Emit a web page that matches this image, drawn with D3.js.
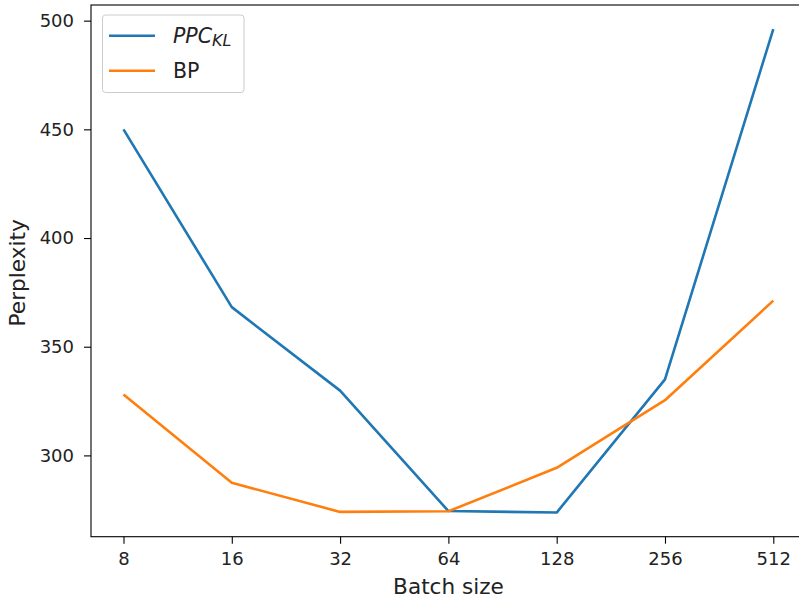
<!DOCTYPE html>
<html>
<head>
<meta charset="utf-8">
<script src="https://cdn.jsdelivr.net/npm/d3@7"></script>
<style>
  body { margin:0; background:#fff; }
  svg { display:block; font-family:"DejaVu Sans", sans-serif; }
</style>
</head>
<body>
<svg id="chart" width="799" height="599"></svg>
<script>
// data
const batchSizes = [8, 16, 32, 64, 128, 256, 512];
const ppcKL = [450, 368.2, 329.8, 274.4, 273.7, 335, 496.1];
const bp    = [328, 287.4, 274, 274.3, 294.3, 325.4, 371.2];
const yTicks = [300, 350, 400, 450, 500];

const svg = d3.select("#chart");
const margin = {left:91, top:5, bottom:62.3};
const plotH = 599 - margin.top - margin.bottom;

// x axis is log2, matplotlib style padding (right spine falls off the canvas)
const x = d3.scaleLog().base(2)
  .domain([Math.pow(2, 2.7), Math.pow(2, 9.3)])
  .range([margin.left, margin.left + 108.3 * 6.6]);

const y = d3.scaleLinear()
  .domain([262.6, 507.2])
  .range([margin.top + plotH, margin.top]);

const g = svg.append("g");

// lines
const line = d3.line()
  .x((d, i) => x(batchSizes[i]))
  .y(d => y(d));

const series = [
  {name:"PPC", values:ppcKL, color:"#1f77b4"},
  {name:"BP", values:bp, color:"#ff7f0e"}
];

g.selectAll("path.series")
  .data(series)
  .join("path")
  .attr("class", "series")
  .attr("fill", "none")
  .attr("stroke", d => d.color)
  .attr("stroke-width", 2.6)
  .attr("stroke-linejoin", "round")
  .attr("d", d => line(d.values));

// axes
const xAxis = d3.axisBottom(x)
  .tickValues(batchSizes)
  .tickFormat(d3.format("d"))
  .tickSize(7).tickPadding(9);

const yAxis = d3.axisLeft(y)
  .tickValues(yTicks)
  .tickSize(7).tickPadding(10);

const gx = svg.append("g")
  .attr("transform", `translate(0,${margin.top + plotH})`)
  .call(xAxis);
const gy = svg.append("g")
  .attr("transform", `translate(${margin.left},0)`)
  .call(yAxis);

[gx, gy].forEach(a => {
  a.select(".domain").remove();
  a.selectAll("line").attr("stroke", "#000").attr("stroke-width", 1.1);
  a.selectAll("text").attr("fill", "#222").style("font-size", "18px")
    .style("font-family", "DejaVu Sans");
});

// frame
svg.append("rect")
  .attr("x", x.range()[0]).attr("y", margin.top)
  .attr("width", x.range()[1] - x.range()[0])
  .attr("height", plotH)
  .attr("fill", "none")
  .attr("stroke", "#000")
  .attr("stroke-width", 1.1);

// axis labels
svg.append("text")
  .attr("x", 448.5).attr("y", 594)
  .attr("text-anchor", "middle")
  .attr("fill", "#222")
  .style("font-size", "21.6px")
  .text("Batch size");

svg.append("text")
  .attr("transform", `translate(25,${margin.top + plotH / 2 + 2}) rotate(-90)`)
  .attr("text-anchor", "middle")
  .attr("fill", "#222")
  .style("font-size", "21.6px")
  .text("Perplexity");

// legend
const lg = svg.append("g");
lg.append("rect")
  .attr("x", 102.5).attr("y", 15)
  .attr("width", 141.5).attr("height", 77.5)
  .attr("rx", 3)
  .attr("fill", "#fff").attr("fill-opacity", 0.8)
  .attr("stroke", "#ccc");

const items = lg.selectAll("g.item")
  .data(series)
  .join("g")
  .attr("class", "item")
  .attr("transform", (d, i) => `translate(0,${35.7 + i * 35})`);

items.append("line")
  .attr("x1", 109).attr("x2", 155)
  .attr("stroke", d => d.color)
  .attr("stroke-width", 2.6);

const lt = items.append("text")
  .attr("x", 173).attr("y", 7.6)
  .attr("fill", "#222")
  .style("font-size", "20.5px");

lt.filter(d => d.name === "PPC").each(function() {
  const t = d3.select(this);
  t.append("tspan").style("font-style", "italic").text("PPC");
  t.append("tspan").style("font-style", "italic").style("font-size", "16px")
    .attr("dy", "2.5").text("KL");
});
lt.filter(d => d.name === "BP").text("BP");
</script>
</body>
</html>
